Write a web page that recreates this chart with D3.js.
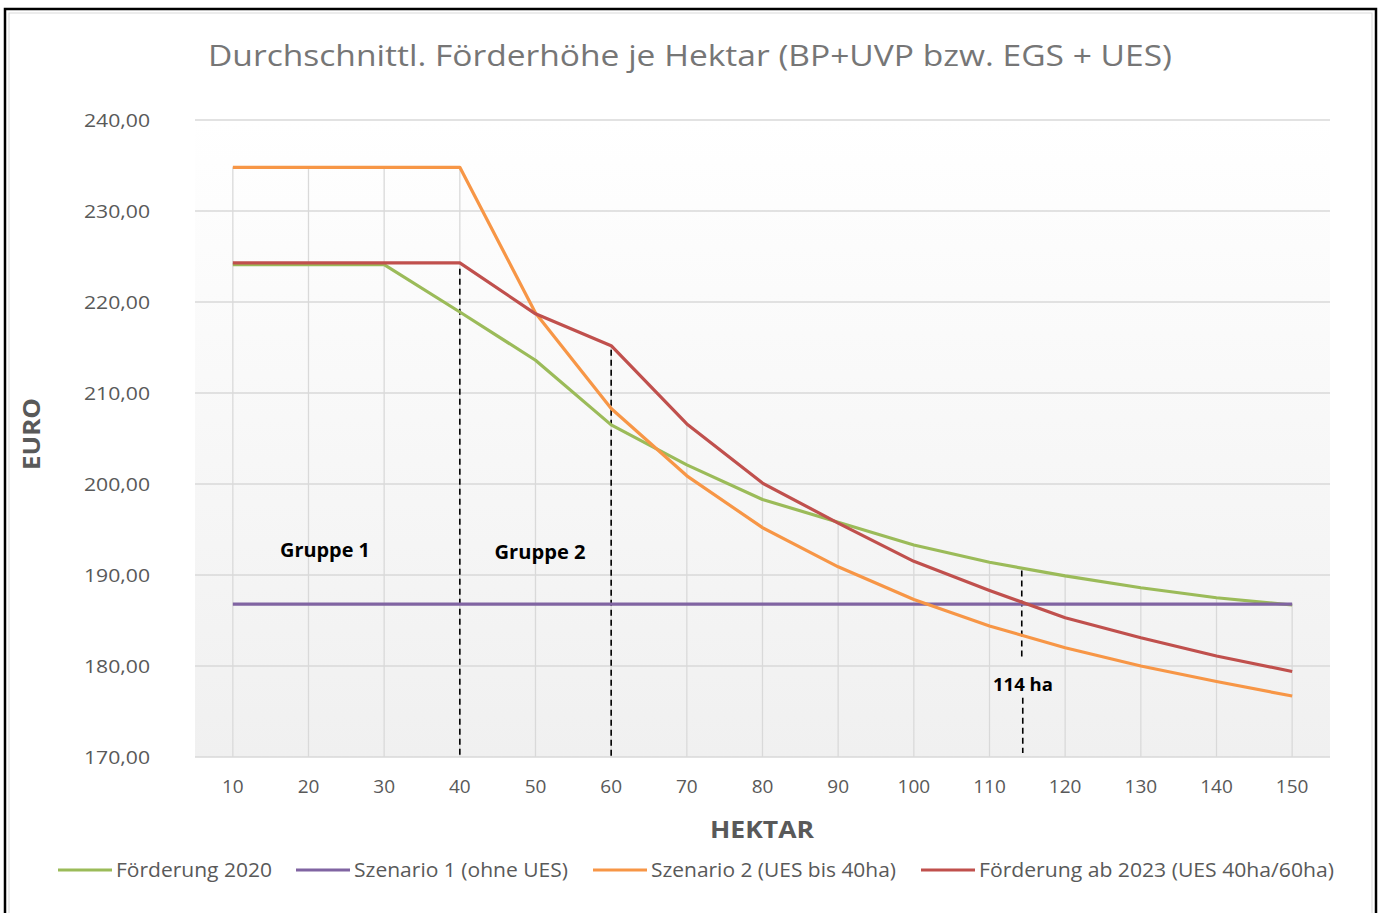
<!DOCTYPE html>
<html lang="de">
<head>
<meta charset="utf-8">
<title>Durchschnittl. Förderhöhe je Hektar</title>
<script src="https://cdn.jsdelivr.net/npm/d3@7"></script>
<style>
  body { margin: 0; background: #fff; }
  svg { display: block; }
  text { font-family: "Open Sans", "Noto Sans", sans-serif; }
</style>
</head>
<body>
<script>
// Data
var hektar = [10, 20, 30, 40, 50, 60, 70, 80, 90, 100, 110, 120, 130, 140, 150];
var foerderung2020 = [224.1, 224.1, 224.1, 218.9, 213.6, 206.5, 202.1, 198.3, 195.8, 193.3, 191.4, 189.9, 188.6, 187.5, 186.7];
var szenario1 = [186.8, 186.8, 186.8, 186.8, 186.8, 186.8, 186.8, 186.8, 186.8, 186.8, 186.8, 186.8, 186.8, 186.8, 186.8];
var szenario2 = [234.8, 234.8, 234.8, 234.8, 218.8, 208.3, 200.9, 195.2, 190.9, 187.3, 184.4, 182.0, 180.0, 178.3, 176.7];
var foerderung2023 = [224.3, 224.3, 224.3, 224.3, 218.7, 215.2, 206.6, 200.1, 195.7, 191.5, 188.3, 185.3, 183.1, 181.1, 179.4];
var yTicks = [170, 180, 190, 200, 210, 220, 230, 240];
var seriesNames = ["Förderung 2020", "Szenario 1 (ohne UES)", "Szenario 2 (UES bis 40ha)", "Förderung ab 2023 (UES 40ha/60ha)"];
var seriesColors = ["#9bbb59", "#8064a2", "#f79646", "#c0504d"];
var markers = [40, 60, 114];

var series = [foerderung2020, szenario1, szenario2, foerderung2023];

var w = 1379, h = 913;
var plot = { left: 195, right: 1330, top: 120, bottom: 757 };

var svg = d3.select("body").append("svg")
  .attr("width", w)
  .attr("height", h);

// Frame
svg.append("rect")
  .attr("x", 5).attr("y", 9).attr("width", 1371).attr("height", 910)
  .attr("fill", "#fff").attr("stroke", "#000").attr("stroke-width", 2.5);
svg.append("rect")
  .attr("x", 9).attr("y", 13).attr("width", 1363).attr("height", 905)
  .attr("fill", "none").attr("stroke", "#d9d9d9").attr("stroke-width", 1);

// Gradient background of plot area
var defs = svg.append("defs");
var grad = defs.append("linearGradient")
  .attr("id", "bg").attr("x1", 0).attr("y1", 0).attr("x2", 0).attr("y2", 1);
grad.append("stop").attr("offset", "0%").attr("stop-color", "#ffffff");
grad.append("stop").attr("offset", "100%").attr("stop-color", "#f0f0f0");

svg.append("rect")
  .attr("x", plot.left).attr("y", plot.top)
  .attr("width", plot.right - plot.left).attr("height", plot.bottom - plot.top)
  .attr("fill", "url(#bg)");

// Scales
var x = d3.scalePoint()
  .domain(hektar)
  .range([plot.left, plot.right])
  .padding(0.5);

var xLin = d3.scaleLinear()
  .domain([hektar[0], hektar[hektar.length - 1]])
  .range([x(hektar[0]), x(hektar[hektar.length - 1])]);

var y = d3.scaleLinear()
  .domain([170, 240])
  .range([plot.bottom, plot.top]);

// Horizontal gridlines
svg.append("g").selectAll("line")
  .data(yTicks)
  .enter().append("line")
  .attr("x1", plot.left).attr("x2", plot.right)
  .attr("y1", function(d) { return y(d); })
  .attr("y2", function(d) { return y(d); })
  .attr("stroke", "#d9d9d9")
  .attr("stroke-width", 1.3);

// Drop lines from highest point to axis
svg.append("g").selectAll("line")
  .data(hektar)
  .enter().append("line")
  .attr("x1", function(d) { return x(d); })
  .attr("x2", function(d) { return x(d); })
  .attr("y1", function(d, i) {
    return y(d3.max(series, function(s) { return s[i]; }));
  })
  .attr("y2", plot.bottom)
  .attr("stroke", "#d9d9d9")
  .attr("stroke-width", 1.3);

// Y axis labels
svg.append("g").selectAll("text")
  .data(yTicks)
  .enter().append("text")
  .attr("x", 150)
  .attr("y", function(d) { return y(d); })
  .attr("dy", "0.35em")
  .attr("text-anchor", "end")
  .attr("font-size", 19)
  .attr("fill", "#595959")
  .attr("textLength", 66)
  .attr("lengthAdjust", "spacingAndGlyphs")
  .text(function(d) { return d3.format(".2f")(d).replace(".", ","); });

// X axis labels
svg.append("g").selectAll("text")
  .data(hektar)
  .enter().append("text")
  .attr("x", function(d) { return x(d); })
  .attr("y", 786)
  .attr("dy", "0.35em")
  .attr("text-anchor", "middle")
  .attr("font-size", 19)
  .attr("fill", "#595959")
  .text(function(d) { return d; });

// Axis titles
svg.append("text")
  .attr("x", 762).attr("y", 830)
  .attr("dy", "0.35em")
  .attr("text-anchor", "middle")
  .attr("font-size", 24)
  .attr("font-weight", "bold")
  .attr("fill", "#595959")
  .attr("textLength", 104)
  .attr("lengthAdjust", "spacingAndGlyphs")
  .text("HEKTAR");

svg.append("text")
  .attr("transform", "translate(32,434) rotate(-90)")
  .attr("dy", "0.35em")
  .attr("text-anchor", "middle")
  .attr("font-size", 24)
  .attr("font-weight", "bold")
  .attr("fill", "#595959")
  .attr("textLength", 72)
  .attr("lengthAdjust", "spacingAndGlyphs")
  .text("EURO");

// Title
svg.append("text")
  .attr("x", 690).attr("y", 55)
  .attr("dy", "0.35em")
  .attr("text-anchor", "middle")
  .attr("font-size", 30)
  .attr("fill", "#767676")
  .attr("textLength", 964)
  .attr("lengthAdjust", "spacingAndGlyphs")
  .text("Durchschnittl. Förderhöhe je Hektar (BP+UVP bzw. EGS + UES)");

// Dashed marker lines
var line = d3.line()
  .x(function(d, i) { return x(hektar[i]); })
  .y(function(d) { return y(d); });

var interp = function(s, v) {
  var i = d3.bisectLeft(hektar, v);
  if (hektar[i] === v) return s[i];
  var t = (v - hektar[i - 1]) / (hektar[i] - hektar[i - 1]);
  return s[i - 1] + t * (s[i] - s[i - 1]);
};

var dashes = svg.append("g")
  .attr("stroke", "#000")
  .attr("stroke-width", 1.6)
  .attr("stroke-dasharray", "6,4");

dashes.append("line")
  .attr("x1", x(markers[0])).attr("x2", x(markers[0]))
  .attr("y1", y(interp(foerderung2023, markers[0])) + 6).attr("y2", plot.bottom);
dashes.append("line")
  .attr("x1", x(markers[1])).attr("x2", x(markers[1]))
  .attr("y1", y(interp(foerderung2023, markers[1])) + 4).attr("y2", plot.bottom);
dashes.append("line")
  .attr("x1", xLin(markers[2]) + 2).attr("x2", xLin(markers[2]) + 2)
  .attr("y1", y(190.5)).attr("y2", y(180.6));
dashes.append("line")
  .attr("x1", xLin(markers[2]) + 3).attr("x2", xLin(markers[2]) + 3)
  .attr("y1", y(176.5)).attr("y2", plot.bottom - 4);

// Series lines
series.forEach(function(s, k) {
  svg.append("path")
    .datum(s)
    .attr("d", line)
    .attr("fill", "none")
    .attr("stroke", seriesColors[k])
    .attr("stroke-width", 3.2)
    .attr("stroke-linejoin", "round");
});

// Annotations
var notes = [
  { text: "Gruppe 1", x: 325, y: 550, size: 19, len: 90 },
  { text: "Gruppe 2", x: 540, y: 552, size: 19, len: 91 },
  { text: "114 ha", x: 1023, y: 685, size: 17, len: 60 }
];
svg.append("g").selectAll("text")
  .data(notes)
  .enter().append("text")
  .attr("x", function(d) { return d.x; })
  .attr("y", function(d) { return d.y; })
  .attr("dy", "0.35em")
  .attr("text-anchor", "middle")
  .attr("font-size", function(d) { return d.size; })
  .attr("font-weight", "bold")
  .attr("fill", "#000")
  .attr("textLength", function(d) { return d.len; })
  .attr("lengthAdjust", "spacingAndGlyphs")
  .text(function(d) { return d.text; });

// Legend
var legendItems = [
  { x: 58, textLen: 156 },
  { x: 296, textLen: 214 },
  { x: 593, textLen: 245 },
  { x: 921, textLen: 355 }
];
var legend = svg.append("g").selectAll("g")
  .data(seriesNames)
  .enter().append("g")
  .attr("transform", function(d, i) { return "translate(" + legendItems[i].x + ",870)"; });

legend.append("line")
  .attr("x1", 0).attr("x2", 54)
  .attr("stroke", function(d, i) { return seriesColors[i]; })
  .attr("stroke-width", 3.2);

legend.append("text")
  .attr("x", 58)
  .attr("dy", "0.35em")
  .attr("font-size", 20)
  .attr("fill", "#595959")
  .attr("textLength", function(d, i) { return legendItems[i].textLen; })
  .attr("lengthAdjust", "spacingAndGlyphs")
  .text(function(d) { return d; });
</script>
</body>
</html>
